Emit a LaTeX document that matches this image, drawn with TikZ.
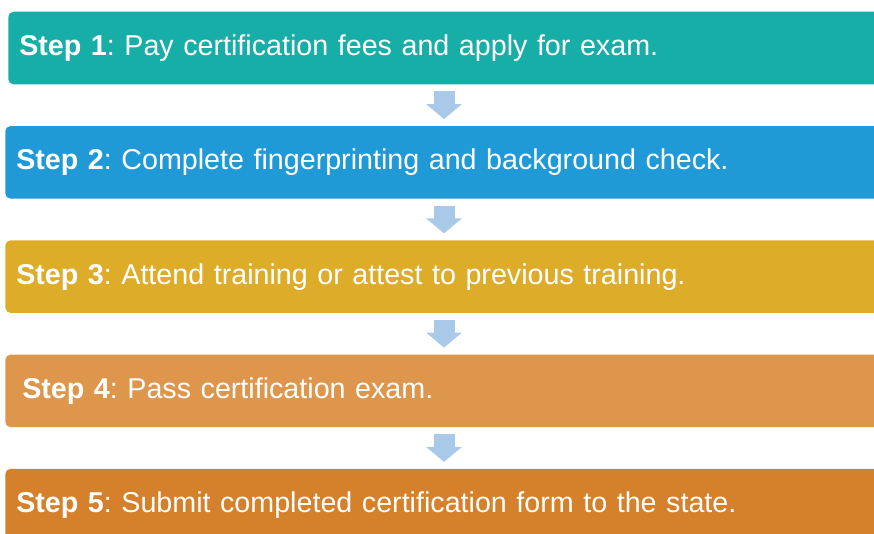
\documentclass[tikz,border=0pt]{standalone}
\usepackage{xcolor}
\usepackage{fontspec}
\setmainfont{Liberation Sans}
\usepackage{tikz}
\usetikzlibrary{
    arrows.meta,
    positioning,
    calc
}
\definecolor{stepteal}{HTML}{17AEA7}
\definecolor{stepblue}{HTML}{1F9AD7}
\definecolor{stepgold}{HTML}{DDAC28}
\definecolor{steplightorange}{HTML}{DD964B}
\definecolor{steporange}{HTML}{D5802A}
\definecolor{flowblue}{HTML}{A9C9E8}
\tikzset{
    % Step box
    stepbox/.style={
        rectangle,
        rounded corners=4pt,
        fill=#1,
        text=white,
        font=\fontsize{21.5}{25}\selectfont\frenchspacing,
        minimum height=54.5pt,
        text width=660pt,
        align=left,
        inner xsep=8.25pt,
        inner ysep=0pt
    },
    stepbox/.default=stepteal,
    % Block arrow between steps
    flowarrow/.style={
        -{Triangle[length=11.25pt,width=26.25pt]},
        line width=15.75pt,
        color=flowblue,
        shorten <=5pt,
        shorten >=5pt
    }
}

\begin{document}
\begin{tikzpicture}

    % Frame
    \useasboundingbox (0,0) rectangle (655.5pt,-399.75pt);
    \clip (0,0) rectangle (655.5pt,-399.75pt);

    % Step boxes
    \node[stepbox=stepteal, anchor=north west] (fees) at (6pt,-8.6pt) {\textbf{Step 1}: Pay certification fees and apply for exam.};
    \node[stepbox=stepblue, below=30.8pt of fees.south west, anchor=north west, xshift=-2.25pt] (fingerprint) {\textbf{Step 2}: Complete fingerprinting and background check.};
    \node[stepbox=stepgold, below=30.8pt of fingerprint.south west, anchor=north west] (training) {\textbf{Step 3}: Attend training or attest to previous training.};
    \node[stepbox=steplightorange, below=30.8pt of training.south west, anchor=north west, inner xsep=12.75pt] (exam) {\textbf{Step 4}: Pass certification exam.};
    \node[stepbox=steporange, below=30.8pt of exam.south west, anchor=north west] (submit) {\textbf{Step 5}: Submit completed certification form to the state.};

    % Arrow column
    \coordinate (flow) at (333pt,0);

    % Arrows
    \draw[flowarrow] (fees.south -| flow) -- (fingerprint.north -| flow);
    \draw[flowarrow] (fingerprint.south -| flow) -- (training.north -| flow);
    \draw[flowarrow] (training.south -| flow) -- (exam.north -| flow);
    \draw[flowarrow] (exam.south -| flow) -- (submit.north -| flow);

\end{tikzpicture}
\end{document}
